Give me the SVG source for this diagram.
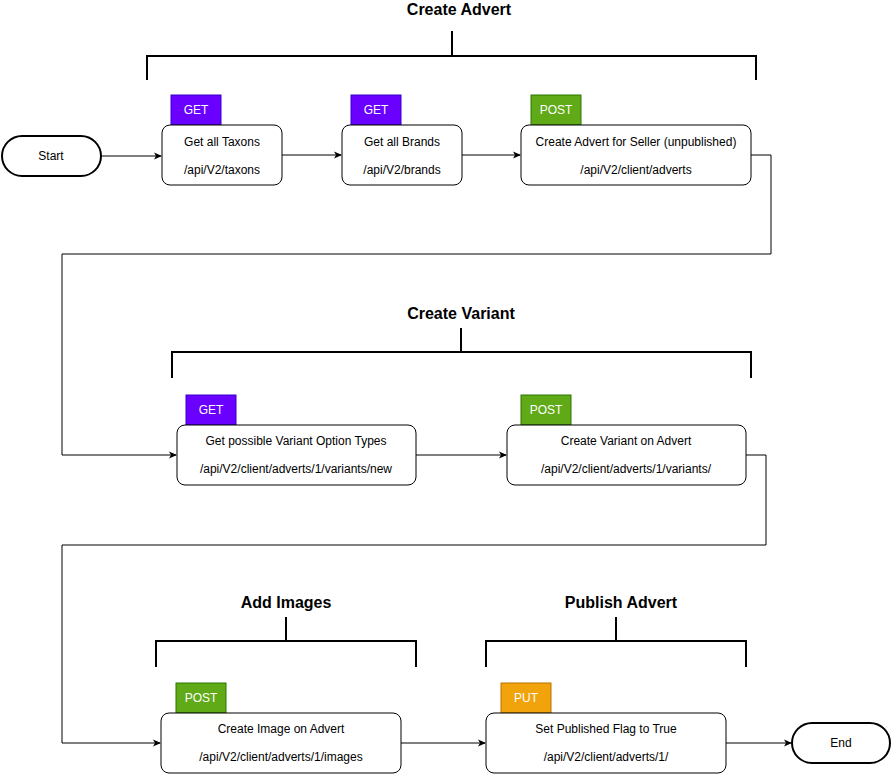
<svg xmlns="http://www.w3.org/2000/svg" width="892" height="774" viewBox="0 0 892 774">
<defs>
<style>
text{font-family:"Liberation Sans",Arial,sans-serif;fill:#000}
.box{fill:#fff;stroke:#000;stroke-width:1}
.term{fill:#fff;stroke:#000;stroke-width:2}
.t{font-size:12px;text-anchor:middle}
.h{font-size:16px;font-weight:bold;text-anchor:middle}
.b{font-size:12px;text-anchor:middle;fill:#fff}
.br{fill:none;stroke:#000;stroke-width:2}
.c{fill:none;stroke:#000;stroke-width:1;marker-end:url(#a)}
</style>
<marker id="a" markerWidth="8" markerHeight="8" refX="7" refY="4" orient="auto" markerUnits="userSpaceOnUse"><path d="M0,0.5 L8,4 L0,7.5 L2,4 Z" fill="#000"/></marker>
</defs>
<g id="brackets">
<text class="h" x="459" y="15">Create Advert</text>
<path class="br" d="M147,80 V56 H756 V80 M452,31 V56"/>
<text class="h" x="461" y="319">Create Variant</text>
<path class="br" d="M172,378 V352 H751 V378 M461,328 V352"/>
<text class="h" x="286" y="608">Add Images</text>
<path class="br" d="M156,667 V641 H416 V667 M286,617 V641"/>
<text class="h" x="621" y="608">Publish Advert</text>
<path class="br" d="M486,667 V641 H746 V667 M616,617 V641"/>
</g>
<g id="connectors">
<path class="c" d="M101,156 H161"/>
<path class="c" d="M282,155 H341"/>
<path class="c" d="M462,155 H520"/>
<path class="c" d="M751,155 H771 V254 H62 V455 H176"/>
<path class="c" d="M416,455 H506"/>
<path class="c" d="M746,455 H766 V545 H62 V743 H160"/>
<path class="c" d="M401,743 H485"/>
<path class="c" d="M726,743 H791"/>
</g>
<g id="start"><rect class="term" x="2" y="136" width="99" height="40" rx="20"/><text class="t" x="51" y="160">Start</text></g>
<g id="taxons"><rect x="171" y="95" width="50" height="30" fill="#6a00ff" stroke="#3700cc"/><text class="b" x="196" y="114">GET</text>
<rect class="box" x="162" y="125" width="120" height="60" rx="8"/><text class="t" x="222" y="146">Get all Taxons</text><text class="t" x="222" y="174">/api/V2/taxons</text></g>
<g id="brands"><rect x="351" y="95" width="50" height="30" fill="#6a00ff" stroke="#3700cc"/><text class="b" x="376" y="114">GET</text>
<rect class="box" x="342" y="125" width="120" height="60" rx="8"/><text class="t" x="402" y="146">Get all Brands</text><text class="t" x="402" y="174">/api/V2/brands</text></g>
<g id="advert"><rect x="531" y="95" width="50" height="30" fill="#60a917" stroke="#2d7600"/><text class="b" x="556" y="114">POST</text>
<rect class="box" x="521" y="125" width="230" height="60" rx="8"/><text class="t" x="636" y="146">Create Advert for Seller (unpublished)</text><text class="t" x="636" y="174">/api/V2/client/adverts</text></g>
<g id="options"><rect x="186" y="395" width="50" height="30" fill="#6a00ff" stroke="#3700cc"/><text class="b" x="211" y="414">GET</text>
<rect class="box" x="177" y="425" width="239" height="60" rx="8"/><text class="t" x="296" y="445">Get possible Variant Option Types</text><text class="t" x="296" y="473">/api/V2/client/adverts/1/variants/new</text></g>
<g id="variant"><rect x="521" y="395" width="50" height="30" fill="#60a917" stroke="#2d7600"/><text class="b" x="546" y="414">POST</text>
<rect class="box" x="507" y="425" width="239" height="60" rx="8"/><text class="t" x="626" y="445">Create Variant on Advert</text><text class="t" x="626" y="473">/api/V2/client/adverts/1/variants/</text></g>
<g id="image"><rect x="176" y="683" width="50" height="30" fill="#60a917" stroke="#2d7600"/><text class="b" x="201" y="702">POST</text>
<rect class="box" x="161" y="713" width="240" height="60" rx="8"/><text class="t" x="281" y="733">Create Image on Advert</text><text class="t" x="281" y="761">/api/V2/client/adverts/1/images</text></g>
<g id="publish"><rect x="501" y="683" width="50" height="30" fill="#f0a30a" stroke="#bd7000"/><text class="b" x="526" y="702">PUT</text>
<rect class="box" x="486" y="713" width="240" height="60" rx="8"/><text class="t" x="606" y="733">Set Published Flag to True</text><text class="t" x="606" y="761">/api/V2/client/adverts/1/</text></g>
<g id="end"><rect class="term" x="792" y="723" width="98" height="40" rx="20"/><text class="t" x="841" y="747">End</text></g>
</svg>
